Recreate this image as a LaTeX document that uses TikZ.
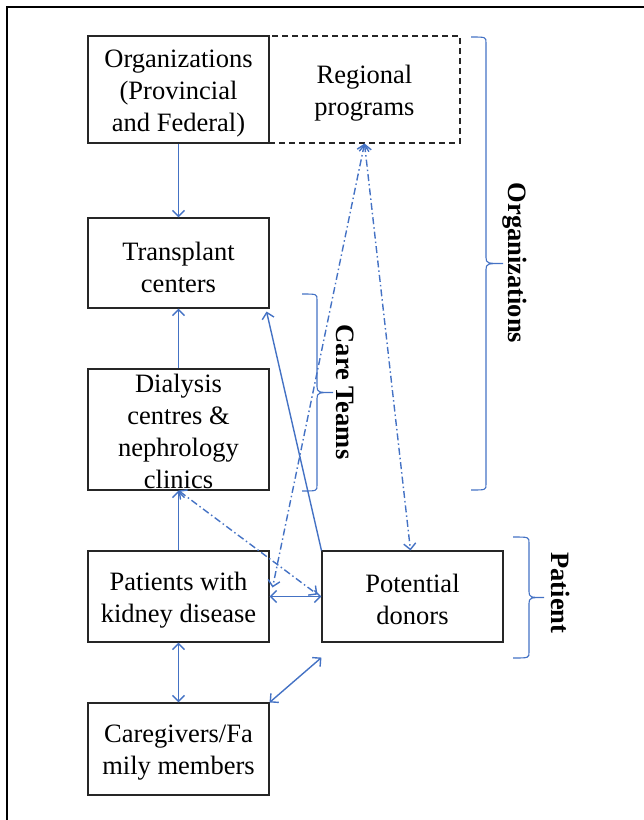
\documentclass[tikz,border=0pt]{standalone}
\usepackage{fontspec}
\setmainfont{Liberation Serif}
\usetikzlibrary{arrows.meta,calc}
\definecolor{lnblue}{HTML}{4472C4}
\newcommand\grpbrace[5]{% x0, x1, x2, ytop, ybot
  \pgfmathsetmacro\ym{(#4+#5)/2}
  \draw[grp] (#1,#4) .. controls (#2,#4) .. (#2,#4+6) -- (#2,\ym-6)
     .. controls (#2,\ym) and (#2+2,\ym) .. (#3,\ym)
     .. controls (#2+2,\ym) and (#2,\ym) .. (#2,\ym+6) -- (#2,#5-6)
     .. controls (#2,#5) .. (#1,#5);}
\begin{document}
\begin{tikzpicture}[x=1pt,y=-1pt,
  box/.style={draw=black!85,line width=1.1pt,minimum width=181pt,inner sep=0pt},
  txt/.style={align=center,inner sep=0pt,yshift=-4pt,font=\fontsize{26.5}{32}\selectfont},
  conn/.style={draw=lnblue,line width=1.4pt,arrows={-Straight Barb[length=6pt,width=12pt]}},
  biconn/.style={conn,arrows={Straight Barb[length=6pt,width=12pt]-Straight Barb[length=6pt,width=12pt]}},
  dd/.style={dash pattern=on 7pt off 3pt on 1.5pt off 3pt},
  grp/.style={draw=lnblue,line width=1.1pt},
  grplabel/.style={font=\fontsize{26.5}{32}\selectfont\bfseries,rotate=-90}
]
\useasboundingbox (0,0) rectangle (644,820);
\draw[line width=1.6pt] (7,820) -- (7,7) -- (644,7);

\node[box,minimum height=107pt,label={[txt]center:{Organizations\\(Provincial\\and Federal)}}] (org) at (178.5,89.5) {};
\node[box,dash pattern=on 6pt off 4pt,minimum width=191pt,minimum height=107pt,label={[txt]center:{Regional\\programs}}] (reg) at (364.5,89.5) {};
\node[box,minimum height=90pt,label={[txt]center:{Transplant\\centers}}] (tc) at (178.5,263) {};
\node[box,minimum height=121pt,label={[txt,yshift=2pt]center:{Dialysis\\centres \&\\nephrology\\clinics}}] (dial) at (178.5,429.5) {};
\node[box,minimum height=91pt,label={[txt]center:{Patients with\\kidney disease}}] (pat) at (178.5,596.5) {};
\node[box,minimum height=91pt,label={[txt,yshift=1pt]center:{Potential\\donors}}] (don) at (412.5,596.5) {};
\node[box,minimum height=92pt,label={[txt]center:{Caregivers/Fa\\mily members}}] (care) at (178.5,749) {};

\coordinate (donlow) at ($(don.south west)+(0,15)$);
\coordinate (patup) at ($(pat.east)+(3,-9)$);
\coordinate (tcse) at ($(tc.south east)+(-3,3)$);
\coordinate (donw) at ($(don.west)+(-4,-2)$);

\draw[conn] (org.south) -- (tc.north);
\draw[conn] (dial.north) -- (tc.south);
\draw[conn] (pat.north) -- (dial.south);
\draw[biconn] (pat.south) -- (care.north);
\draw[biconn] (care.north east) -- (donlow);
\draw[biconn] (pat.east) -- (don.west);
\draw[conn] (don.north west) -- (tcse);
\draw[biconn,dd] (reg.south) -- (patup);
\draw[biconn,dd] (reg.south) -- ($(don.north)+(-2,0)$);
\draw[biconn,dd] (dial.south) -- (donw);

\grpbrace{471}{486}{503}{37}{490}
\grpbrace{302}{317}{333}{294}{491}
\grpbrace{513}{529}{544}{537}{658}

\node[grplabel] (lorg) at (515,263) {Organizations};
\node[grplabel] (lcare) at (345,392) {Care Teams};
\node[grplabel] (lpat) at (561,593) {Patient};
\end{tikzpicture}
\end{document}
